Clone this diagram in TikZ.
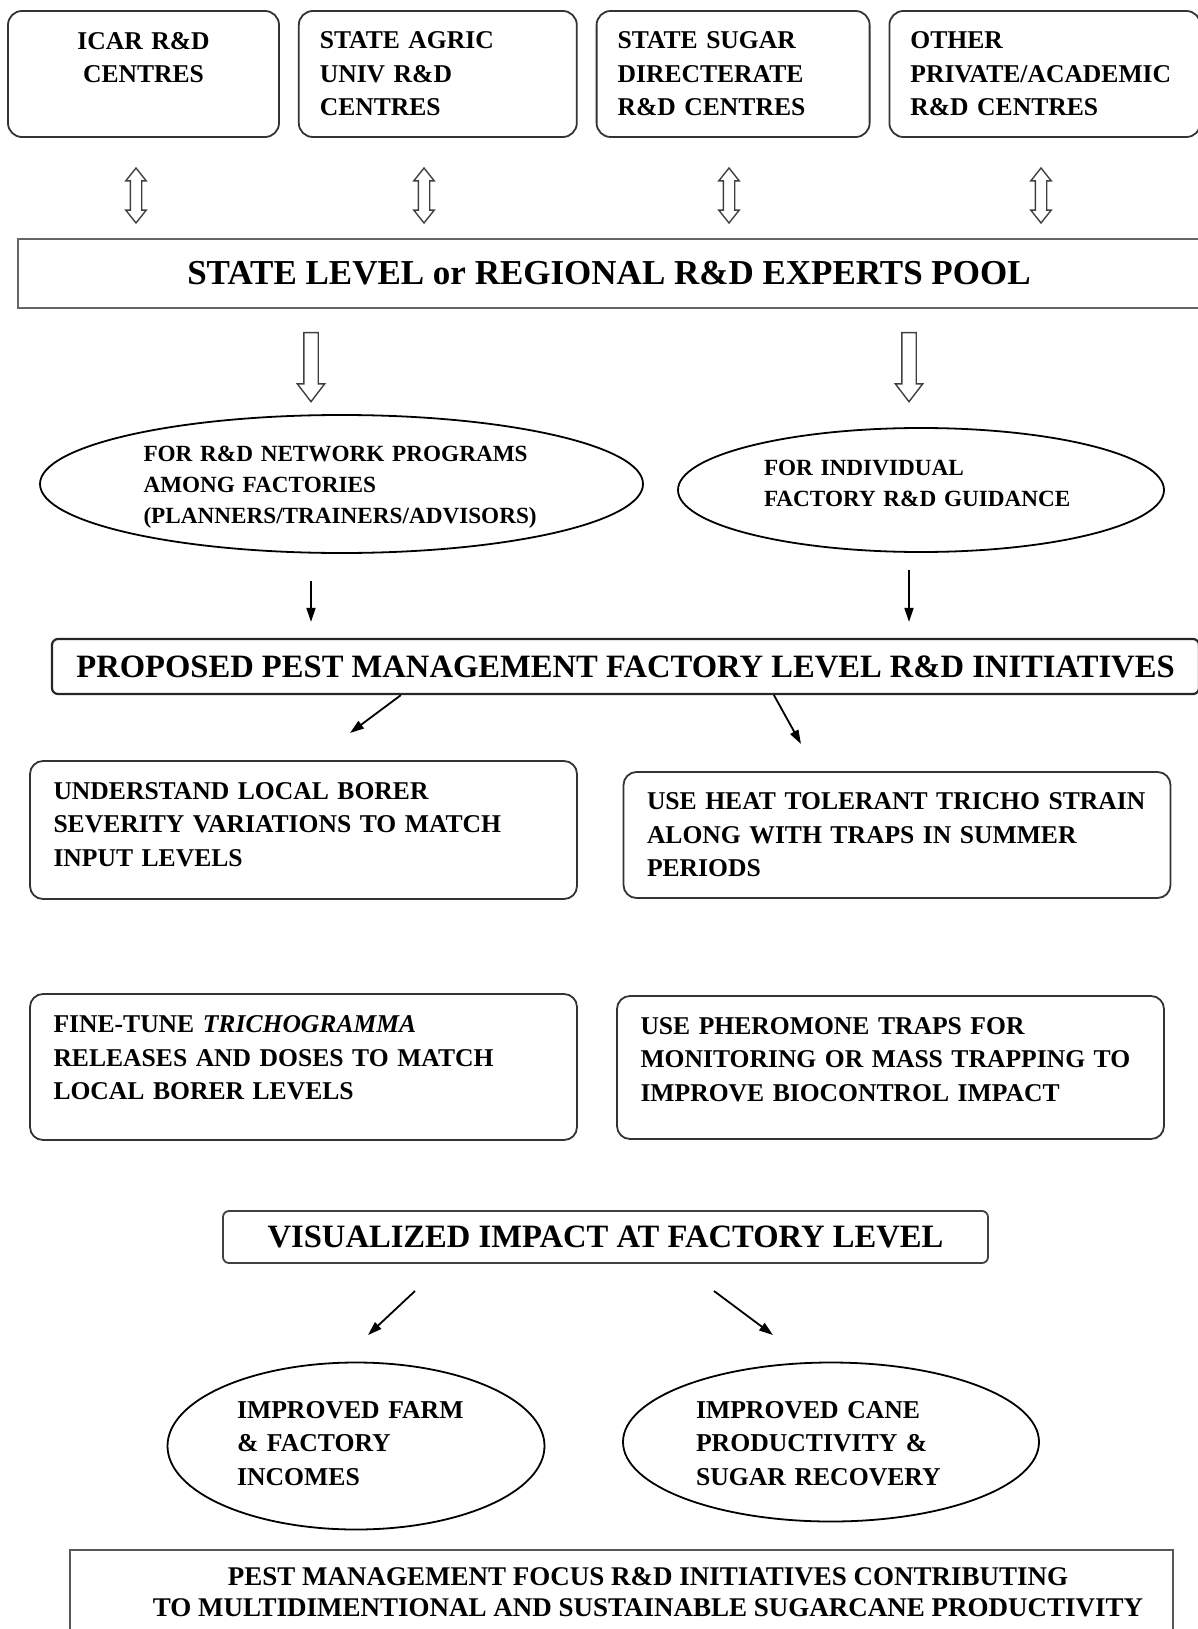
\documentclass[tikz,border=0pt]{standalone}
\usepackage{fontspec}
\setmainfont{Liberation Serif}
\usetikzlibrary{positioning,calc,shapes.geometric,shapes.arrows,arrows.meta}
\tikzset{
  centre box/.style={
    draw=black!80, line width=1.8pt, rounded corners=14pt,
    minimum height=126pt, inner xsep=21pt, inner ysep=0pt,
    text width=#1pt, align=left,
    font=\fontsize{25.6}{33.5}\selectfont\bfseries,
  },
  twin arrow/.style={
    double arrow, draw=black!75, line width=1.4pt, rotate=90,
    minimum height=55pt, inner xsep=0pt, inner ysep=5pt,
    double arrow head extend=4.5pt, double arrow tip angle=77,
  },
  down arrow/.style={
    single arrow, draw=black!75, line width=1.4pt, rotate=-90,
    minimum height=69pt, inner xsep=0pt, inner ysep=6.5pt,
    single arrow head extend=6.5pt, single arrow tip angle=75,
  },
  pool box/.style={
    draw=black!60, line width=2.4pt,
    minimum width=1182pt, minimum height=69pt,
    font=\fontsize{35}{40}\selectfont\bfseries,
  },
  oval/.style={
    ellipse, draw, line width=1.8pt, inner sep=0pt,
  },
  oval text/.style={
    align=left, inner sep=0pt,
    font=\fontsize{23.2}{31}\selectfont\bfseries,
  },
  plan box/.style={
    draw=black!85, line width=2.2pt, rounded corners=6pt,
    font=\fontsize{32.6}{38}\selectfont\bfseries,
  },
  idea box/.style={
    draw=black!80, line width=1.8pt, rounded corners=13pt,
    inner xsep=23.5pt, inner ysep=0pt, text width=500pt, align=left,
    font=\fontsize{25.6}{33.5}\selectfont\bfseries,
  },
  result text/.style={
    align=left, inner sep=0pt,
    font=\fontsize{25.7}{33.5}\selectfont\bfseries,
  },
  pointer/.style={
    line width=1.8pt, -{Triangle[length=14pt,width=9pt]},
  },
}

\begin{document}
\begin{tikzpicture}[x=1pt, y=-1pt, node distance=18pt]
  \useasboundingbox (0,0) rectangle (1197,1629);

  % R&D centres
  \node [centre box=229, align=center] (icar) at (143.5,74) {ICAR R\&D\\CENTRES\\\mbox{}};
  \node [centre box=236, right=of icar] (sau) {STATE AGRIC\\UNIV R\&D\\CENTRES};
  \node [centre box=231, right=of sau] (ssd) {STATE SUGAR\\DIRECTERATE\\R\&D CENTRES};
  \node [centre box=269, right=of ssd] (other) {OTHER\\PRIVATE/ACADEMIC\\R\&D CENTRES};

  \node [twin arrow] (d1) at (136,195.5) {};
  \node [twin arrow] (d2) at (424,195.5) {};
  \node [twin arrow] (d3) at (729,195.5) {};
  \node [twin arrow] (d4) at (1041,195.5) {};

  \node [pool box] (pool) at (609,273.5) {STATE LEVEL or REGIONAL R\&D EXPERTS POOL};

  \node [down arrow] (h1) at (311,362.5) {};
  \node [down arrow] (h2) at (909,362.5) {};

  % guidance
  \node [oval, minimum width=603pt, minimum height=138pt] (netw) at (341.5,484) {};
  \node [oval text, text width=396pt] (netw text) at (341.5,487)
    {FOR R\&D NETWORK PROGRAMS\\AMONG FACTORIES\\(PLANNERS/TRAINERS/ADVISORS)};
  \node [oval, minimum width=486pt, minimum height=124pt] (indiv) at (921,490) {};
  \node [oval text, text width=314pt] (indiv text) at (921,483.5)
    {FOR INDIVIDUAL\\FACTORY R\&D GUIDANCE};

  \node [plan box, minimum width=1147pt, minimum height=55pt] (prop) at (625.5,666.5)
    {PROPOSED PEST MANAGEMENT FACTORY LEVEL R\&D INITIATIVES};

  % initiatives
  \node [idea box, minimum height=138pt, text depth=78pt] (und) at (303.5,830)
    {UNDERSTAND LOCAL BORER\\SEVERITY VARIATIONS TO MATCH\\INPUT LEVELS};
  \node [idea box, minimum height=126pt] (heat) at (897,835)
    {USE HEAT TOLERANT TRICHO STRAIN\\ALONG WITH TRAPS IN SUMMER\\PERIODS};
  \node [idea box, minimum height=146pt, text depth=85pt] (fine) at (303.5,1067)
    {FINE-TUNE \textit{TRICHOGRAMMA}\\RELEASES AND DOSES TO MATCH\\LOCAL BORER LEVELS};
  \node [idea box, minimum height=143pt, text depth=83pt] (pher) at (890.5,1067.5)
    {USE PHEROMONE TRAPS FOR\\MONITORING OR MASS TRAPPING TO\\IMPROVE BIOCONTROL IMPACT};

  \node [plan box, minimum width=765pt, minimum height=52pt, draw=black!75, line width=1.8pt]
    (impact) at (605.5,1237) {VISUALIZED IMPACT AT FACTORY LEVEL};

  % impact
  \node [oval, minimum width=377pt, minimum height=167pt] (farm) at (356,1446) {};
  \node [result text, text width=238pt] (farm text) at (356,1443.5)
    {IMPROVED FARM\\\& FACTORY\\INCOMES};
  \node [oval, minimum width=416pt, minimum height=159pt] (cane) at (831,1442) {};
  \node [result text, text width=270pt] (cane text) at (831,1443.5)
    {IMPROVED CANE\\PRODUCTIVITY \&\\SUGAR RECOVERY};

  \node [draw=black!65, line width=2.2pt, minimum width=1103pt, minimum height=100pt]
    (goal) at (621.5,1600) {};
  \node [align=center, font=\fontsize{27}{31}\selectfont\bfseries] (goal text) at (648,1592.5)
    {PEST MANAGEMENT FOCUS R\&D INITIATIVES CONTRIBUTING\\TO MULTIDIMENTIONAL AND SUSTAINABLE SUGARCANE PRODUCTIVITY};

  % connectors
  \coordinate (und tip) at (350,733);
  \coordinate (heat tip) at (801,744);
  \coordinate (farm tail) at (415,1291);
  \coordinate (farm tip) at (368,1335);
  \coordinate (cane tail) at (714,1291);
  \coordinate (cane tip) at (773,1335);

  \draw [pointer, shorten <=27pt, shorten >=16pt] (netw.south -| h1) -- (prop.north -| h1);
  \draw [pointer, shorten <=17pt, shorten >=16pt] (indiv.south -| h2) -- (prop.north -| h2);
  \draw [pointer] ($(prop.south west)+(350,0)$) -- (und tip);
  \draw [pointer] ($(prop.south west)+(723,0)$) -- (heat tip);
  \draw [pointer] (farm tail) -- (farm tip);
  \draw [pointer] (cane tail) -- (cane tip);
\end{tikzpicture}
\end{document}
